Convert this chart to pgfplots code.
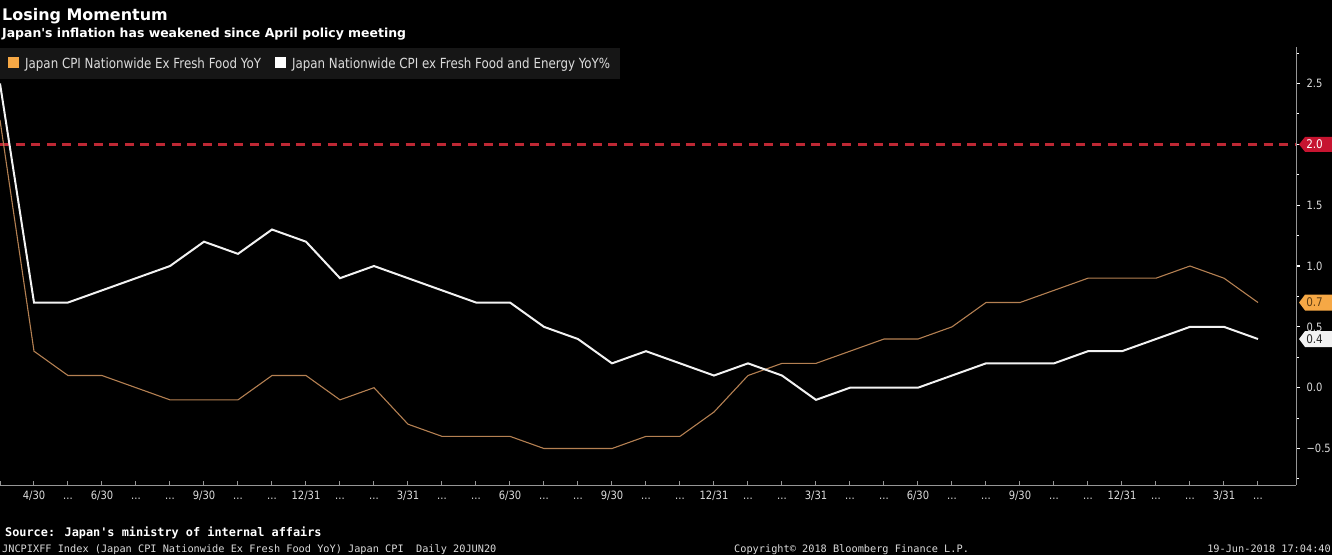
\documentclass[border=0pt]{standalone}
\usepackage{fontspec}
\usepackage{pgfplots}
\usepackage{pgfplotstable}
\pgfplotsset{compat=1.18}
\usetikzlibrary{calc}
\newfontfamily\ddv{DejaVu Sans}
\newfontfamily\legf{DejaVu Sans}[FakeStretch=0.85]
\newfontfamily\tickf{DejaVu Sans}[FakeStretch=0.87]
\newfontfamily\monof{DejaVu Sans Mono}
\definecolor{cOrLine}{RGB}{180,128,82}
\definecolor{cOr}{RGB}{246,168,69}
\definecolor{cWh}{RGB}{242,242,242}
\definecolor{cRed}{RGB}{198,20,48}
\definecolor{cDash}{RGB}{190,40,52}
\definecolor{cAx}{RGB}{150,150,150}
\definecolor{cTk}{RGB}{220,220,220}
\definecolor{cLeg}{RGB}{22,22,22}
\newcommand\dd{\vphantom{0}...}
\pgfplotstableread{
x core corecore
0 2.2 2.5
1 0.3 0.7
2 0.1 0.7
3 0.1 0.8
4 0.0 0.9
5 -0.1 1.0
6 -0.1 1.2
7 -0.1 1.1
8 0.1 1.3
9 0.1 1.2
10 -0.1 0.9
11 0.0 1.0
12 -0.3 0.9
13 -0.4 0.8
14 -0.4 0.7
15 -0.4 0.7
16 -0.5 0.5
17 -0.5 0.4
18 -0.5 0.2
19 -0.4 0.3
20 -0.4 0.2
21 -0.2 0.1
22 0.1 0.2
23 0.2 0.1
24 0.2 -0.1
25 0.3 0.0
26 0.4 0.0
27 0.4 0.0
28 0.5 0.1
29 0.7 0.2
30 0.7 0.2
31 0.8 0.2
32 0.9 0.3
33 0.9 0.3
34 0.9 0.4
35 1.0 0.5
36 0.9 0.5
37 0.7 0.4
}\cpidata
\begin{document}
\begin{tikzpicture}[x=1bp,y=1bp]
\fill[black] (0,0) rectangle (1332,555);
\useasboundingbox (0,0) rectangle (1332,555);
\node[anchor=base west, inner sep=0, text=white, font=\ddv\bfseries\fontsize{16}{18}\selectfont] at (2,534.3) {Losing Momentum};
\node[anchor=base west, inner sep=0, text=white, font=\ddv\bfseries\fontsize{12.5}{14}\selectfont] at (2,517.7) {Japan's inflation has weakened since April policy meeting};
\begin{axis}[
  at={(0bp,167.3bp)}, anchor=origin,
  width=1296bp, height=438bp, scale only axis,
  xmin=0, xmax=38.12, ymin=-0.8, ymax=2.8,
  axis x line*=bottom, axis y line*=right,
  axis line style={cAx, line width=1bp},
  xtick={0,...,37},
  xticklabels={,4/30,\dd,6/30,\dd,\dd,9/30,\dd,\dd,12/31,\dd,\dd,3/31,\dd,\dd,6/30,\dd,\dd,9/30,\dd,\dd,12/31,\dd,\dd,3/31,\dd,\dd,6/30,\dd,\dd,9/30,\dd,\dd,12/31,\dd,\dd,3/31,\dd},
  ytick={-0.5,0,0.5,1,1.5,2,2.5},
  yticklabels={−0.5,0.0,0.5,1.0,1.5,2.0,2.5},
  minor ytick={-0.75,-0.25,0.25,0.75,1.25,1.75,2.25,2.75},
  xtick align=inside, ytick align=outside,
  major tick length=4bp, minor tick length=3bp,
  xtick style={cAx, line width=1bp},
  ytick style={white, line width=1.2bp},
  minor y tick style={white, line width=1bp},
  xticklabel style={text=cTk, font=\tickf\fontsize{11.5}{12}\selectfont, yshift=-2.5bp},
  yticklabel style={text=cTk, font=\tickf\fontsize{11.5}{12}\selectfont, xshift=3bp},
  legend style={at={(0,1)}, anchor=north west, yshift=-1bp, fill=cLeg, draw=none,
    text=cTk, font=\legf\fontsize{14}{16}\selectfont, inner xsep=8bp, inner ysep=7.5bp,
    /tikz/every even column/.append style={column sep=12bp}},
  legend columns=2, legend cell align=left,
]
\addplot[cDash, line width=2.6bp, dash pattern=on 9bp off 6.6bp, forget plot] coordinates {(0,2.0) (38.12,2.0)};
\addplot[cOrLine, line width=1.1bp, legend image code/.code={\fill[cOr, draw=none] (0bp,-4.5bp) rectangle (11bp,6.5bp); \path[draw=none] (0bp,0bp) -- (15bp,0bp);}] table[x=x, y=core] {\cpidata};
\addlegendentry{Japan CPI Nationwide Ex Fresh Food YoY}
\addplot[cWh, line width=2bp, legend image code/.code={\fill[white, draw=none] (0bp,-4.5bp) rectangle (11bp,6.5bp); \path[draw=none] (0bp,0bp) -- (15bp,0bp);}] table[x=x, y=corecore] {\cpidata};
\addlegendentry{Japan Nationwide CPI ex Fresh Food and Energy YoY\%}
\coordinate (b20) at (axis cs:38.12,2.0);
\coordinate (b07) at (axis cs:38.12,0.7);
\coordinate (b04) at (axis cs:38.12,0.4);
\end{axis}
\fill[cRed] ($(b20)+(3,0)$) -- ++(6,7.5) -- ++(50,0) -- ++(0,-15) -- ++(-50,0) -- cycle;
\node[anchor=west, inner sep=0, text=white, font=\tickf\fontsize{12}{12}\selectfont] at ($(b20)+(10,0)$) {2.0};
\fill[cOr] ($(b07)+(3,0)$) -- ++(6,8) -- ++(50,0) -- ++(0,-16) -- ++(-50,0) -- cycle;
\node[anchor=west, inner sep=0, text={rgb,255:red,95;green,62;blue,20}, font=\tickf\fontsize{12}{12}\selectfont] at ($(b07)+(10,0)$) {0.7};
\fill[cWh] ($(b04)+(3,0)$) -- ++(6,8) -- ++(50,0) -- ++(0,-16) -- ++(-50,0) -- cycle;
\node[anchor=west, inner sep=0, text={rgb,255:red,40;green,40;blue,40}, font=\tickf\fontsize{12}{12}\selectfont] at ($(b04)+(10,0)$) {0.4};
\node[anchor=base west, inner sep=0, text=white, font=\monof\bfseries\fontsize{11.9}{13}\selectfont] at (5,18) {Source: Japan's ministry of internal affairs};
\node[anchor=base west, inner sep=0, text=cTk, font=\monof\fontsize{10.3}{12}\selectfont] at (2,2.5) {JNCPIXFF Index (Japan CPI Nationwide Ex Fresh Food YoY) Japan CPI\ \ Daily 20JUN20};
\node[anchor=base west, inner sep=0, text=cTk, font=\monof\fontsize{10.3}{12}\selectfont] at (734,2.5) {Copyright© 2018 Bloomberg Finance L.P.};
\node[anchor=base east, inner sep=0, text=cTk, font=\monof\fontsize{10.3}{12}\selectfont] at (1331,2.5) {19-Jun-2018 17:04:40};
\end{tikzpicture}
\end{document}
